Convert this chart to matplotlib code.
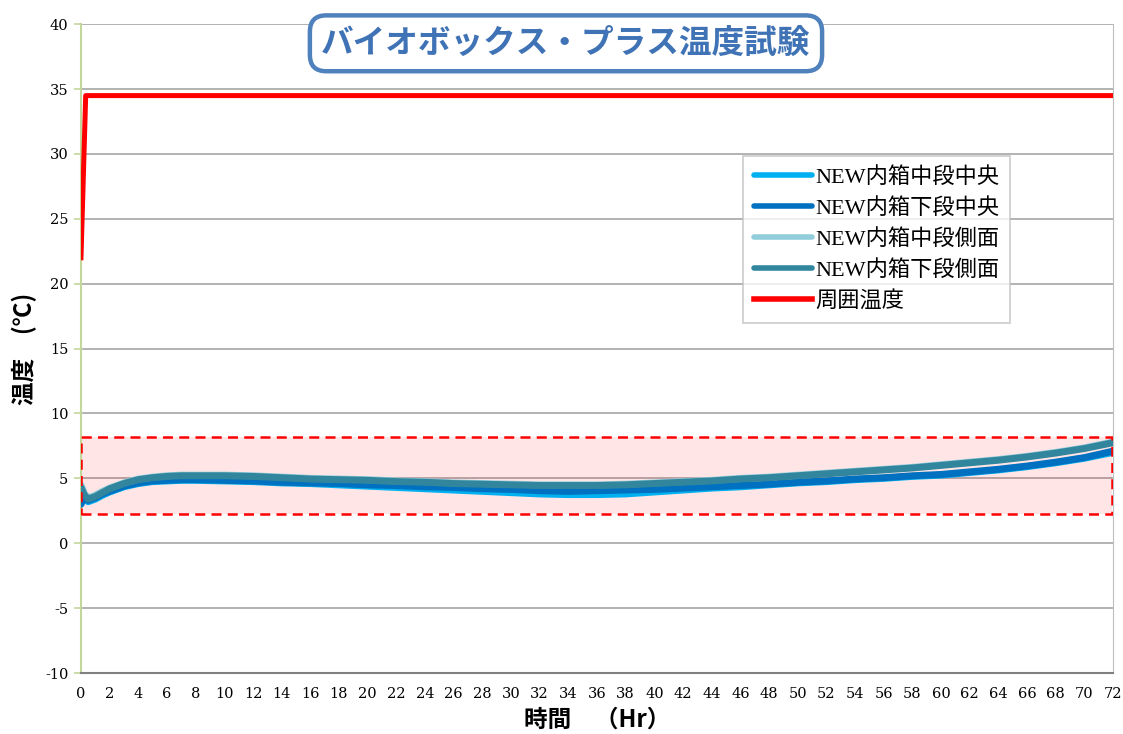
import matplotlib.pyplot as plt
from matplotlib.patches import Rectangle

plt.rcParams['axes.unicode_minus'] = False

# time axis (hours) used for the box temperatures
hours = [0, 0.25, 0.5, 1, 1.5, 2, 3, 4, 5, 6, 7, 8, 10, 12, 14, 16, 18, 20, 22, 24,
         26, 28, 30, 32, 34, 36, 38, 40, 42, 44, 46, 48, 50, 52, 54, 56, 58, 60,
         62, 64, 66, 68, 70, 72]

mid_center = [3.8, 3.5, 3.2, 3.4, 3.7, 3.95, 4.35, 4.6, 4.75, 4.8, 4.85, 4.85, 4.8, 4.75,
              4.65, 4.6, 4.5, 4.4, 4.3, 4.2, 4.1, 4.0, 3.9, 3.8, 3.75, 3.75, 3.8, 3.95,
              4.1, 4.25, 4.35, 4.5, 4.65, 4.75, 4.9, 5.0, 5.15, 5.25, 5.45, 5.65, 5.9,
              6.2, 6.55, 7.0]
low_center = [3.0, 3.6, 3.3, 3.5, 3.8, 4.0, 4.4, 4.65, 4.8, 4.85, 4.9, 4.9, 4.85, 4.8,
              4.7, 4.65, 4.6, 4.5, 4.45, 4.35, 4.3, 4.2, 4.15, 4.05, 4.0, 4.05, 4.1, 4.15,
              4.25, 4.35, 4.45, 4.55, 4.7, 4.8, 4.95, 5.05, 5.2, 5.3, 5.5, 5.7, 5.95,
              6.25, 6.6, 7.1]
mid_side = [4.5, 3.8, 3.5, 3.7, 4.0, 4.25, 4.65, 4.95, 5.1, 5.2, 5.25, 5.25, 5.25, 5.2,
            5.1, 5.0, 4.95, 4.9, 4.8, 4.75, 4.65, 4.6, 4.55, 4.5, 4.5, 4.5, 4.55, 4.65,
            4.75, 4.85, 5.0, 5.1, 5.25, 5.4, 5.55, 5.7, 5.85, 6.05, 6.25, 6.45, 6.7,
            7.0, 7.35, 7.8]
low_side = [4.3, 3.7, 3.4, 3.6, 3.9, 4.2, 4.6, 4.9, 5.05, 5.15, 5.2, 5.2, 5.2, 5.15,
            5.05, 4.95, 4.9, 4.85, 4.75, 4.7, 4.6, 4.55, 4.5, 4.45, 4.45, 4.45, 4.5, 4.6,
            4.7, 4.8, 4.95, 5.05, 5.2, 5.35, 5.5, 5.65, 5.8, 6.0, 6.2, 6.4, 6.65,
            6.95, 7.3, 7.75]

ambient_hours = [0, 0.33, 72]
ambient = [22.0, 34.5, 34.5]

labels = ['NEW内箱中段中央', 'NEW内箱下段中央', 'NEW内箱中段側面', 'NEW内箱下段側面', '周囲温度']
colors = ['#00B0F0', '#0070C0', '#92CDDC', '#31859C', '#FF0000']

# target band
band_low, band_high = 2.25, 8.2

fig = plt.figure(figsize=(11.23, 7.34), dpi=100)
ax = fig.add_axes([0.0721, 0.0831, 0.9190, 0.8839])

ax.grid(axis='y', color='#A6A6A6', linewidth=1.2)
ax.set_axisbelow(True)

# pink dashed box around the 2-8 range
ax.add_patch(Rectangle((0, band_low), 71.9, band_high - band_low, facecolor='#FF0000',
                       alpha=0.1, edgecolor='none', zorder=1.5))
ax.add_patch(Rectangle((0, band_low), 71.9, band_high - band_low, facecolor='none',
                       edgecolor='#FF0000', linestyle=(0, (4, 2.5)), linewidth=1.8, zorder=4))

series = [mid_center, low_center, mid_side, low_side]
for vals, lab, col in zip(series, labels[:4], colors[:4]):
    ax.plot(hours, vals, color=col, linewidth=5, label=lab, zorder=3, solid_capstyle='round')
ax.plot(ambient_hours, ambient, color=colors[4], linewidth=3.6, label=labels[4], zorder=3)

ax.set_xlim(0, 72)
ax.set_ylim(-10, 40)
ax.set_xticks(range(0, 73, 2))
ax.set_yticks(range(-10, 41, 5))
for lbl in ax.get_xticklabels() + ax.get_yticklabels():
    lbl.set_family('DejaVu Serif')
    lbl.set_fontsize(10.5)
ax.tick_params(axis='x', length=0, pad=10)
ax.tick_params(axis='y', length=5, color='#C3D69B', width=1.2, pad=4)

ax.spines['left'].set_color('#C3D69B')
ax.spines['left'].set_linewidth(1.5)
ax.spines['bottom'].set_color('#808080')
ax.spines['bottom'].set_linewidth(1.5)
ax.spines['right'].set_color('#BFBFBF')
ax.spines['top'].set_visible(False)

ax.set_ylabel('温度　(℃)', family=['Noto Sans CJK JP'], fontsize=17, fontweight='bold')
ax.yaxis.set_label_coords(-0.043, 0.5)
ax.set_xlabel('時間　（Hr）', family=['Noto Sans CJK JP'], fontsize=17, fontweight='bold')
ax.xaxis.set_label_coords(0.5, -0.054)

leg = ax.legend(loc='upper left', bbox_to_anchor=(0.6415, 0.797), frameon=True, fancybox=False,
                prop={'family': ['Liberation Serif', 'Noto Sans CJK JP'], 'size': 16},
                handlelength=2.6, handletextpad=0.15, labelspacing=0.45, borderpad=0.5,
                borderaxespad=0)
leg.get_frame().set_edgecolor('#BFBFBF')
leg.get_frame().set_linewidth(1.2)
for line in leg.get_lines():
    line.set_linewidth(4)

fig.text(0.504, 0.941, 'バイオボックス・プラス温度試験', ha='center', va='center',
         family=['Noto Sans CJK JP'], fontsize=23.5, fontweight='bold', color='#3F73B5',
         bbox=dict(boxstyle='round,pad=0.35,rounding_size=0.5', facecolor='white',
                   edgecolor='#4F81BD', linewidth=3.2))

plt.savefig('out.png', dpi=100)
